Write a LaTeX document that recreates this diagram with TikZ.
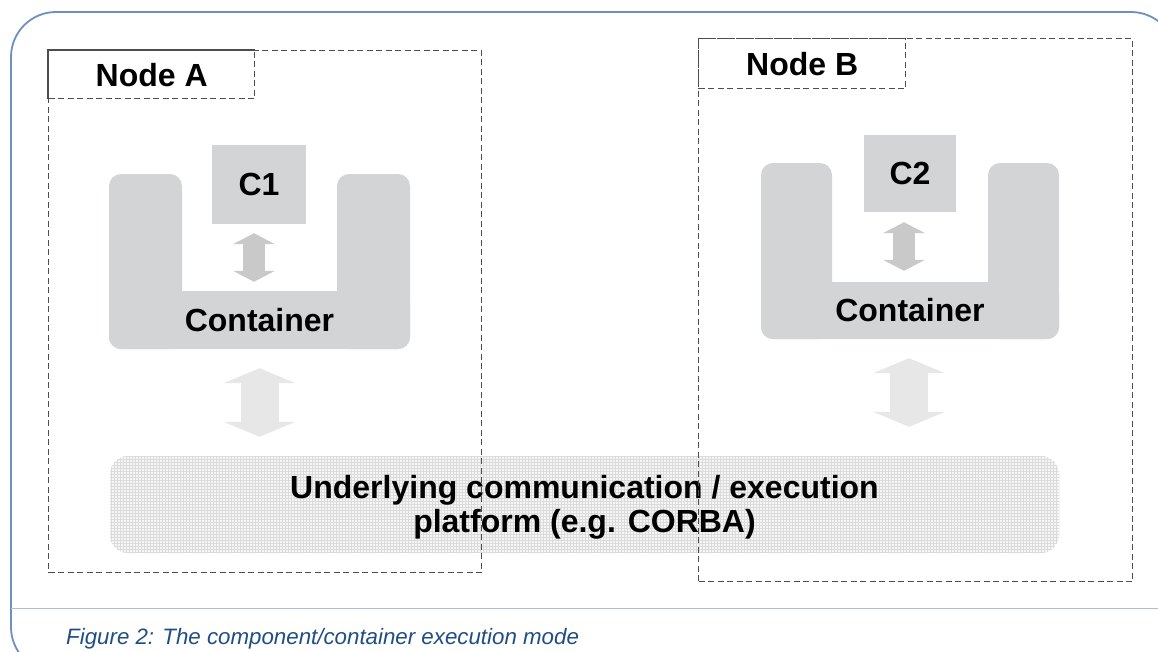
\documentclass[tikz,border=0pt]{standalone}
\usepackage{fontspec}
\setmainfont{Liberation Sans}
\usetikzlibrary{positioning,arrows.meta,patterns}
\definecolor{frameblue}{HTML}{6F8FC0}
\definecolor{ruleblue}{HTML}{AABEDD}
\definecolor{captionblue}{HTML}{1F4E84}
\definecolor{boxgray}{HTML}{D3D4D6}
\definecolor{tipgray}{HTML}{C9C9CA}
\definecolor{biggray}{HTML}{E7E7E8}
\definecolor{dashgray}{HTML}{4D4D4D}

\begin{document}
\begin{tikzpicture}[
            x=1pt, y=-1pt,
            bigtext/.style={font=\fontsize{32}{34}\selectfont\bfseries, align=center},
            nodebox/.style={draw=dashgray, line width=1.3pt, dash pattern=on 6pt off 3.5pt, anchor=north west, inner sep=0pt},
            labelbox/.style={nodebox, bigtext},
            part/.style={fill=boxgray, rounded corners=12pt, inner sep=0pt},
            comp/.style={fill=boxgray, bigtext, inner sep=0pt},
            platform/.style={fill=gray!7, rounded corners=18pt, inner sep=0pt, bigtext,
                postaction={pattern=grid, pattern color=gray!28}},
            smallarrow/.style={draw=tipgray, line width=22pt,
                {Triangle[width=42pt,length=11pt,line width=0pt]}-{Triangle[width=42pt,length=11pt,line width=0pt]}},
            bigarrow/.style={draw=biggray, line width=38pt,
                {Triangle[width=72pt,length=15pt,line width=0pt]}-{Triangle[width=72pt,length=15pt,line width=0pt]}}
        ]
        \useasboundingbox (0,0) rectangle (1158,651);

        % outer frame and caption
        \begin{scope}
        \clip (0,0) rectangle (1158,651);
        \draw[frameblue, line width=1.8pt, rounded corners=45pt] (11,12) rectangle (1176,672);
        \end{scope}
        \draw[ruleblue, line width=1pt] (11,608) -- (1158,608);
        \node[anchor=base west, text=captionblue, font=\fontsize{22.3}{26}\selectfont\itshape, inner sep=0pt] (caption) at (66,644) {Figure 2: The component/container execution mode};

        % platform
        \node[platform, minimum width=949pt, minimum height=97pt] (plat) at (584.5,504.5) {\rule{0pt}{29pt}Underlying communication / execution\\platform (e.g. CORBA)};

        % container A
        \node[part, minimum width=73pt, minimum height=175pt] (contAl) at (145.5,261.5) {};
        \node[part, minimum width=73pt, minimum height=175pt] (contAr) at (373.5,261.5) {};
        \node[part, bigtext, minimum width=301pt, minimum height=58pt] (contA) at (259.5,320) {Container};
        \node[comp, minimum width=94pt, minimum height=79pt] (c1) at (259,184.5) {C1};

        % container B
        \node[part, minimum width=71pt, minimum height=176pt] (contBl) at (796.5,251) {};
        \node[part, minimum width=71pt, minimum height=176pt] (contBr) at (1023.5,251) {};
        \node[part, bigtext, minimum width=298pt, minimum height=57pt] (contB) at (910,310.5) {Container};
        \node[comp, minimum width=92pt, minimum height=77pt] (c2) at (910,173.5) {C2};

        \draw[smallarrow, shorten <=9pt, shorten >=9pt] ([xshift=-5pt]c1.south) -- ([xshift=-5.5pt]contA.north);
        \draw[smallarrow, shorten <=10pt, shorten >=11pt] ([xshift=-6pt]c2.south) -- ([xshift=-6pt]contB.north);
        \draw[bigarrow, shorten <=19pt, shorten >=19pt] (contA.south) -- (contA.south |- plat.north);
        \draw[bigarrow, shorten <=19pt, shorten >=29pt] ([xshift=-1pt]contB.south) -- ([xshift=-1pt]contB.south |- plat.north);

        % the two nodes
        \node[nodebox, minimum width=433pt, minimum height=522pt] (nodeA) at (48,50) {};
        \node[labelbox, minimum width=206pt, minimum height=48pt] (labelA) at (48,50) {Node A};
        \draw[dashgray, line width=1.3pt] (labelA.south west) |- (labelA.north east);
        \node[nodebox, minimum width=434pt, minimum height=543pt] (nodeB) at (698,38) {};
        \node[labelbox, minimum width=207pt, minimum height=50pt] (labelB) at (698,38) {Node B};
        \end{tikzpicture}
\end{document}
